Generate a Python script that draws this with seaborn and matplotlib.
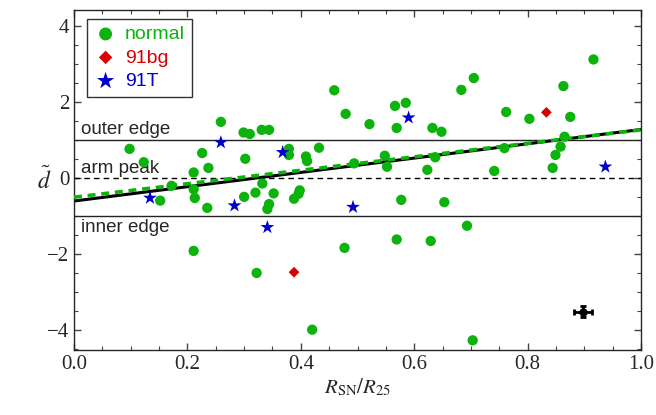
import numpy as np
import pandas as pd
import matplotlib
import matplotlib.pyplot as plt
import matplotlib.ticker as ticker
import seaborn as sns

matplotlib.use('Agg')

# Data
normal_x = [0.098, 0.123, 0.152, 0.172, 0.211, 0.211, 0.213, 0.211, 0.226, 0.237,
            0.235, 0.259, 0.299, 0.310, 0.302, 0.300, 0.320, 0.322, 0.331, 0.344,
            0.332, 0.352, 0.344, 0.341, 0.379, 0.379, 0.398, 0.396, 0.388, 0.409,
            0.411, 0.432, 0.420, 0.459, 0.479, 0.477, 0.494, 0.521, 0.548, 0.552,
            0.566, 0.585, 0.569, 0.577, 0.569, 0.632, 0.648, 0.637, 0.623, 0.653,
            0.629, 0.683, 0.705, 0.693, 0.703, 0.741, 0.762, 0.759, 0.803, 0.863,
            0.875, 0.865, 0.858, 0.849, 0.844, 0.916]
normal_y = [0.77, 0.42, -0.59, -0.20, 0.15, -0.29, -0.52, -1.91, 0.66, 0.27,
            -0.78, 1.48, 1.20, 1.16, 0.51, -0.49, -0.38, -2.49, 1.27, 1.27,
            -0.14, -0.40, -0.68, -0.81, 0.77, 0.61, -0.32, -0.41, -0.54, 0.57,
            0.45, 0.80, -3.98, 2.31, 1.69, -1.83, 0.39, 1.42, 0.59, 0.30,
            1.90, 1.98, 1.32, -0.57, -1.61, 1.32, 1.22, 0.55, 0.22, -0.63,
            -1.65, 2.32, 2.63, -1.25, -4.26, 0.19, 1.74, 0.79, 1.56, 2.42,
            1.61, 1.09, 0.83, 0.61, 0.27, 3.12]
bg_x = [0.388, 0.833]
bg_y = [-2.47, 1.73]
t_x = [0.134, 0.259, 0.283, 0.341, 0.368, 0.492, 0.590, 0.937]
t_y = [-0.52, 0.94, -0.72, -1.29, 0.68, -0.76, 1.59, 0.30]

# linear fits (intercept, slope): all SNe and normal only
fit_all = (-0.60, 1.88)
fit_normal = (-0.50, 1.77)

# typical error bar
err_x, err_y = 0.898, -3.51
err_dx, err_dy = 0.016, 0.14

green = '#0db30d'
red = '#d90000'
blue = '#0000cc'

df = pd.concat([
    pd.DataFrame({'r': normal_x, 'd': normal_y, 'type': 'normal'}),
    pd.DataFrame({'r': bg_x, 'd': bg_y, 'type': '91bg'}),
    pd.DataFrame({'r': t_x, 'd': t_y, 'type': '91T'}),
])

sns.set_style('ticks')
plt.rcParams['font.family'] = ['Liberation Sans', 'DejaVu Sans']
plt.rcParams['mathtext.fontset'] = 'stix'

fig = plt.figure(figsize=(6.56, 4.15), dpi=100)
ax = fig.add_axes([0.1128, 0.157, 0.8645, 0.819])

# reference lines
ax.axhline(1, color='#222222', lw=1.0, zorder=1)
ax.axhline(-1, color='#222222', lw=1.0, zorder=1)
ax.axhline(0, color='black', lw=1.0, ls=(0, (4, 3)), zorder=1)
ax.text(0.012, 1.05, 'outer edge', fontsize=13.5, va='bottom')
ax.text(0.012, 0.03, 'arm peak', fontsize=13.5, va='bottom')
ax.text(0.012, -1.08, 'inner edge', fontsize=13.5, va='top')

xs = np.array([0.0, 1.0])
ax.plot(xs, fit_all[0] + fit_all[1] * xs, color='black', lw=2.2, zorder=2)
ax.plot(xs, fit_normal[0] + fit_normal[1] * xs, color=green, lw=2.6,
        ls=(0, (2.2, 1.6)), zorder=3)

sns.scatterplot(data=df[df['type'] == 'normal'], x='r', y='d', ax=ax, color=green,
                marker='o', s=55, edgecolor='none', label='normal', zorder=4)
sns.scatterplot(data=df[df['type'] == '91bg'], x='r', y='d', ax=ax, color=red,
                marker='D', s=30, edgecolor='none', label='91bg', zorder=4)
sns.scatterplot(data=df[df['type'] == '91T'], x='r', y='d', ax=ax, color=blue,
                marker='*', s=110, edgecolor='none', label='91T', zorder=4)

ax.errorbar(err_x, err_y, xerr=err_dx, yerr=err_dy, fmt='o', color='black',
            ms=5, lw=2, capsize=2.5, capthick=2, zorder=5)

leg = ax.legend(loc='upper left', bbox_to_anchor=(0.006, 1.003), fontsize=14,
                labelcolor=[green, red, blue], frameon=True, fancybox=False,
                edgecolor='black', handletextpad=0.4, borderpad=0.35,
                labelspacing=0.3, handlelength=1.2, borderaxespad=0.5,
                markerscale=1.25)
leg.get_frame().set_linewidth(1.0)

ax.set_xlim(0, 1)
ax.set_ylim(-4.51, 4.42)
ax.xaxis.set_major_locator(ticker.MultipleLocator(0.2))
ax.xaxis.set_minor_locator(ticker.MultipleLocator(0.05))
ax.yaxis.set_major_locator(ticker.MultipleLocator(2))
ax.yaxis.set_minor_locator(ticker.MultipleLocator(0.5))
ax.xaxis.set_major_formatter(ticker.FormatStrFormatter('%.1f'))
ax.yaxis.set_major_formatter(ticker.FuncFormatter(lambda v, _: f'{v:.0f}'.replace('-', '\u2212')))
ax.tick_params(which='both', direction='in', top=True, right=True, color='#444444')
ax.tick_params(which='major', length=5, width=1)
ax.tick_params(which='minor', length=3, width=0.8)
for lab in ax.get_xticklabels() + ax.get_yticklabels():
    lab.set_fontfamily('Liberation Serif')
    lab.set_fontsize(15)
for s in ax.spines.values():
    s.set_linewidth(1.0)

ax.set_xlabel(r'$R_{\rm SN}/R_{25}$', fontsize=15, labelpad=2)
ax.set_ylabel(r'$\tilde{d}$', fontsize=17, rotation=0, labelpad=2, va='center')

plt.savefig('out.png', dpi=100)
